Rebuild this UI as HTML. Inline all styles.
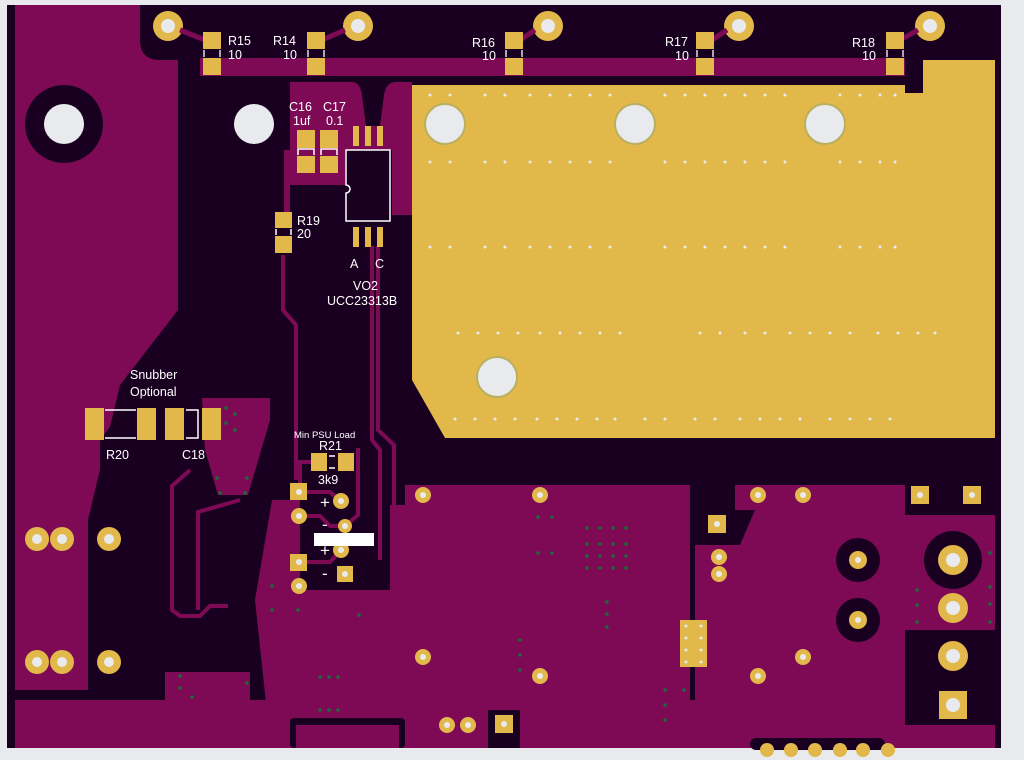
<!DOCTYPE html>
<html><head><meta charset="utf-8"><style>
html,body{margin:0;padding:0;background:#e8eaed;}
svg{display:block}
text{font-family:"Liberation Sans",sans-serif;fill:#fff;}
</style></head><body>
<svg width="1024" height="760" viewBox="0 0 1024 760" xmlns="http://www.w3.org/2000/svg">
<rect x="0" y="0" width="1024" height="760" fill="#e8eaed"/>
<rect x="7" y="5" width="994" height="743" fill="#1a0020"/>
<path d="M15 5 H140 V40 Q140 60 160 60 H178 V310 L120 385 L88 520 V690 H15 Z" fill="#7e0a55"/>
<path d="M15 690 H82 V625 L15 625 Z" fill="#7e0a55"/>
<rect x="15" y="690" width="70" height="8" fill="#1a0020"/>
<rect x="200" y="58" width="712" height="18" fill="#7e0a55"/>
<path d="M290 82 H352 Q360 82 362 95 L366 126 H380 L384 95 Q386 82 396 82 H412 V215 H400 V215 H392 V150 H345 V185 H290 Z" fill="#7e0a55"/>
<path d="M284 150 V212 H290 V150 Z" fill="#7e0a55"/>
<path d="M412 85 H905 V60 H995 V438 H445 L412 380 Z" fill="#e2b84a"/>
<rect x="905" y="58" width="18" height="35" fill="#1a0020"/>
<path d="M202 398 H270 V420 L248 495 H218 L205 450 Z" fill="#7e0a55"/>
<path d="M100 440 L130 400 H160 V470 L100 470 Z" fill="#1a0020"/>
<path d="M272 500 H300 V590 H390 V505 H405 V485 H690 V740 H270 L255 600 Z" fill="#7e0a55"/>
<path d="M695 485 H742 L720 505 H700 Z" fill="#1a0020"/>
<path d="M735 485 H905 V515 H995 V630 H905 V725 H695 V545 H740 L755 510 H735 Z" fill="#7e0a55"/>
<path d="M165 672 H250 V740 H15 V700 H165 Z" fill="#7e0a55"/>
<rect x="15" y="700" width="680" height="48" fill="#7e0a55"/>
<rect x="695" y="725" width="300" height="23" fill="#7e0a55"/>
<rect x="290" y="718" width="115" height="30" rx="4" fill="#1a0020"/>
<rect x="296" y="725" width="103" height="23" fill="#7e0a55"/>
<rect x="488" y="710" width="32" height="38" fill="#1a0020"/>
<g stroke="#7e0a55" stroke-width="4" fill="none">
<path d="M283 255 V310 L296 325 V480"/>
<path d="M372 246 V440 L380 450 V560"/>
<path d="M378 246 V430 L394 445 V560"/>
<path d="M190 470 L172 486 V610 L180 616 H200 L210 606 H228"/>
<path d="M240 500 L198 512 V610"/>
<path d="M358 448 V515 L345 526"/>
<path d="M299 492 H330 L341 501"/>
<path d="M299 516 H320 L330 526 H345"/>
<path d="M299 562 H330 L341 550"/>
<path d="M311 462 H300 V490"/>
</g>
<circle cx="64" cy="124" r="39" fill="#1a0020"/>
<circle cx="64" cy="124" r="20" fill="#e8eaed"/>
<circle cx="254" cy="124" r="20" fill="#e8eaed"/>
<g fill="#e8eaed" stroke="#b8b060" stroke-width="2">
<circle cx="445" cy="124" r="20"/><circle cx="635" cy="124" r="20"/><circle cx="825" cy="124" r="20"/><circle cx="497" cy="377" r="20"/>
</g>
<g fill="#e8eaed">
<circle cx="430" cy="95" r="1.5"/><circle cx="450" cy="95" r="1.5"/><circle cx="485" cy="95" r="1.5"/><circle cx="505" cy="95" r="1.5"/><circle cx="530" cy="95" r="1.5"/><circle cx="550" cy="95" r="1.5"/><circle cx="570" cy="95" r="1.5"/><circle cx="590" cy="95" r="1.5"/><circle cx="610" cy="95" r="1.5"/><circle cx="665" cy="95" r="1.5"/><circle cx="685" cy="95" r="1.5"/><circle cx="705" cy="95" r="1.5"/><circle cx="725" cy="95" r="1.5"/><circle cx="745" cy="95" r="1.5"/><circle cx="765" cy="95" r="1.5"/><circle cx="785" cy="95" r="1.5"/><circle cx="840" cy="95" r="1.5"/><circle cx="860" cy="95" r="1.5"/><circle cx="880" cy="95" r="1.5"/><circle cx="895" cy="95" r="1.5"/>
<circle cx="430" cy="162" r="1.5"/><circle cx="450" cy="162" r="1.5"/><circle cx="485" cy="162" r="1.5"/><circle cx="505" cy="162" r="1.5"/><circle cx="530" cy="162" r="1.5"/><circle cx="550" cy="162" r="1.5"/><circle cx="570" cy="162" r="1.5"/><circle cx="590" cy="162" r="1.5"/><circle cx="610" cy="162" r="1.5"/><circle cx="665" cy="162" r="1.5"/><circle cx="685" cy="162" r="1.5"/><circle cx="705" cy="162" r="1.5"/><circle cx="725" cy="162" r="1.5"/><circle cx="745" cy="162" r="1.5"/><circle cx="765" cy="162" r="1.5"/><circle cx="785" cy="162" r="1.5"/><circle cx="840" cy="162" r="1.5"/><circle cx="860" cy="162" r="1.5"/><circle cx="880" cy="162" r="1.5"/><circle cx="895" cy="162" r="1.5"/>
<circle cx="430" cy="247" r="1.5"/><circle cx="450" cy="247" r="1.5"/><circle cx="485" cy="247" r="1.5"/><circle cx="505" cy="247" r="1.5"/><circle cx="530" cy="247" r="1.5"/><circle cx="550" cy="247" r="1.5"/><circle cx="570" cy="247" r="1.5"/><circle cx="590" cy="247" r="1.5"/><circle cx="610" cy="247" r="1.5"/><circle cx="665" cy="247" r="1.5"/><circle cx="685" cy="247" r="1.5"/><circle cx="705" cy="247" r="1.5"/><circle cx="725" cy="247" r="1.5"/><circle cx="745" cy="247" r="1.5"/><circle cx="765" cy="247" r="1.5"/><circle cx="785" cy="247" r="1.5"/><circle cx="840" cy="247" r="1.5"/><circle cx="860" cy="247" r="1.5"/><circle cx="880" cy="247" r="1.5"/><circle cx="895" cy="247" r="1.5"/>
<circle cx="458" cy="333" r="1.5"/><circle cx="478" cy="333" r="1.5"/><circle cx="498" cy="333" r="1.5"/><circle cx="518" cy="333" r="1.5"/><circle cx="540" cy="333" r="1.5"/><circle cx="560" cy="333" r="1.5"/><circle cx="580" cy="333" r="1.5"/><circle cx="600" cy="333" r="1.5"/><circle cx="620" cy="333" r="1.5"/><circle cx="700" cy="333" r="1.5"/><circle cx="720" cy="333" r="1.5"/><circle cx="745" cy="333" r="1.5"/><circle cx="765" cy="333" r="1.5"/><circle cx="790" cy="333" r="1.5"/><circle cx="810" cy="333" r="1.5"/><circle cx="830" cy="333" r="1.5"/><circle cx="850" cy="333" r="1.5"/><circle cx="878" cy="333" r="1.5"/><circle cx="898" cy="333" r="1.5"/><circle cx="918" cy="333" r="1.5"/><circle cx="935" cy="333" r="1.5"/>
<circle cx="455" cy="419" r="1.5"/><circle cx="475" cy="419" r="1.5"/><circle cx="495" cy="419" r="1.5"/><circle cx="515" cy="419" r="1.5"/><circle cx="537" cy="419" r="1.5"/><circle cx="557" cy="419" r="1.5"/><circle cx="577" cy="419" r="1.5"/><circle cx="597" cy="419" r="1.5"/><circle cx="615" cy="419" r="1.5"/><circle cx="645" cy="419" r="1.5"/><circle cx="665" cy="419" r="1.5"/><circle cx="695" cy="419" r="1.5"/><circle cx="715" cy="419" r="1.5"/><circle cx="740" cy="419" r="1.5"/><circle cx="760" cy="419" r="1.5"/><circle cx="780" cy="419" r="1.5"/><circle cx="800" cy="419" r="1.5"/><circle cx="830" cy="419" r="1.5"/><circle cx="850" cy="419" r="1.5"/><circle cx="870" cy="419" r="1.5"/><circle cx="890" cy="419" r="1.5"/>
</g>
<g>
<circle cx="168" cy="26" r="15" fill="#e2b84a"/><circle cx="168" cy="26" r="7" fill="#e8eaed"/>
<circle cx="358" cy="26" r="15" fill="#e2b84a"/><circle cx="358" cy="26" r="7" fill="#e8eaed"/>
<circle cx="548" cy="26" r="15" fill="#e2b84a"/><circle cx="548" cy="26" r="7" fill="#e8eaed"/>
<circle cx="739" cy="26" r="15" fill="#e2b84a"/><circle cx="739" cy="26" r="7" fill="#e8eaed"/>
<circle cx="930" cy="26" r="15" fill="#e2b84a"/><circle cx="930" cy="26" r="7" fill="#e8eaed"/>
</g>
<g stroke="#7e0a55" stroke-width="5">
<line x1="180" y1="30" x2="205" y2="40"/><line x1="345" y1="30" x2="322" y2="40"/><line x1="535" y1="30" x2="520" y2="40"/><line x1="727" y1="30" x2="712" y2="40"/><line x1="918" y1="30" x2="900" y2="40"/>
</g>
<g fill="#e2b84a">
<rect x="203" y="32" width="18" height="17"/><rect x="203" y="58" width="18" height="17"/>
<rect x="307" y="32" width="18" height="17"/><rect x="307" y="58" width="18" height="17"/>
<rect x="505" y="32" width="18" height="17"/><rect x="505" y="58" width="18" height="17"/>
<rect x="696" y="32" width="18" height="17"/><rect x="696" y="58" width="18" height="17"/>
<rect x="886" y="32" width="18" height="17"/><rect x="886" y="58" width="18" height="17"/>
</g>
<g stroke="#fff" stroke-width="1.3">
<path d="M204 50v7M220 50v7M308 50v7M324 50v7M506 50v7M522 50v7M697 50v7M713 50v7M887 50v7M903 50v7"/>
</g>
<g font-size="12.5">
<text x="228" y="45">R15</text><text x="228" y="59">10</text>
<text x="273" y="45">R14</text><text x="283" y="59">10</text>
<text x="472" y="47">R16</text><text x="482" y="60">10</text>
<text x="665" y="46">R17</text><text x="675" y="60">10</text>
<text x="852" y="47">R18</text><text x="862" y="60">10</text>
</g>
<g fill="#e2b84a">
<rect x="297" y="130" width="18" height="18"/><rect x="297" y="156" width="18" height="17"/>
<rect x="320" y="130" width="18" height="18"/><rect x="320" y="156" width="18" height="17"/>
<rect x="353" y="126" width="6" height="20"/><rect x="365" y="126" width="6" height="20"/><rect x="377" y="126" width="6" height="20"/>
<rect x="353" y="227" width="6" height="20"/><rect x="365" y="227" width="6" height="20"/><rect x="377" y="227" width="6" height="20"/>
<rect x="275" y="212" width="17" height="16"/><rect x="275" y="236" width="17" height="17"/>
</g>
<g stroke="#fff" stroke-width="1.5" fill="none">
<path d="M298 155v-6h16v6M321 155v-6h16v6"/>
<path d="M346 150h44v71h-44v-28a4 4 0 0 0 0-8z"/>
<path d="M276 229v6M291 229v6"/>
</g>
<g font-size="12.5">
<text x="289" y="111">C16</text><text x="293" y="125">1uf</text>
<text x="323" y="111">C17</text><text x="326" y="125">0.1</text>
<text x="297" y="225">R19</text><text x="297" y="238">20</text>
<text x="350" y="268">A</text><text x="375" y="268">C</text>
<text x="353" y="290">VO2</text><text x="327" y="305">UCC23313B</text>
<text x="130" y="379">Snubber</text><text x="130" y="396">Optional</text>
<text x="106" y="459">R20</text><text x="182" y="459">C18</text>
<text x="319" y="450">R21</text><text x="318" y="484">3k9</text>
</g>
<text x="294" y="438" font-size="9.5">Min PSU Load</text>
<g fill="#e2b84a">
<rect x="85" y="408" width="19" height="32"/><rect x="137" y="408" width="19" height="32"/>
<rect x="165" y="408" width="19" height="32"/><rect x="202" y="408" width="19" height="32"/>
<rect x="311" y="453" width="16" height="18"/><rect x="338" y="453" width="16" height="18"/>
</g>
<g stroke="#fff" stroke-width="1.5" fill="none">
<path d="M105 410h31M105 438h31M186 410h12v28h-12"/>
<path d="M329 456h6M329 468h6"/>
</g>
<g fill="#e2b84a">
<rect x="290" y="483" width="17" height="17"/><circle cx="341" cy="501" r="8"/>
<circle cx="299" cy="516" r="8"/><circle cx="345" cy="526" r="7"/>
<circle cx="341" cy="550" r="8"/><rect x="290" y="554" width="17" height="17"/>
<rect x="337" y="566" width="16" height="16"/><circle cx="299" cy="586" r="8"/>
</g>
<g fill="#e8eaed"><circle cx="299" cy="492" r="3"/><circle cx="341" cy="501" r="3"/><circle cx="299" cy="516" r="3"/><circle cx="345" cy="526" r="3"/><circle cx="341" cy="550" r="3"/><circle cx="299" cy="562" r="3"/><circle cx="345" cy="574" r="3"/><circle cx="299" cy="586" r="3"/></g>
<rect x="314" y="533" width="60" height="13" fill="#fff"/>
<g font-size="17"><text x="320" y="508">+</text><text x="322" y="530">-</text><text x="320" y="556">+</text><text x="322" y="579">-</text></g>
<g fill="#e2b84a">
<circle cx="37" cy="539" r="12"/><circle cx="62" cy="539" r="12"/><circle cx="109" cy="539" r="12"/>
<circle cx="37" cy="662" r="12"/><circle cx="62" cy="662" r="12"/><circle cx="109" cy="662" r="12"/>
<circle cx="423" cy="495" r="8"/><circle cx="540" cy="495" r="8"/><circle cx="423" cy="657" r="8"/><circle cx="540" cy="676" r="8"/>
<circle cx="758" cy="495" r="8"/><circle cx="803" cy="495" r="8"/><circle cx="719" cy="557" r="8"/><circle cx="719" cy="574" r="8"/>
<circle cx="803" cy="657" r="8"/><circle cx="758" cy="676" r="8"/>
<circle cx="447" cy="725" r="8"/><circle cx="468" cy="725" r="8"/>
</g>
<circle cx="858" cy="560" r="22" fill="#1a0020"/><circle cx="858" cy="560" r="9" fill="#e2b84a"/>
<circle cx="858" cy="620" r="22" fill="#1a0020"/><circle cx="858" cy="620" r="9" fill="#e2b84a"/>
<circle cx="953" cy="560" r="29" fill="#1a0020"/><circle cx="953" cy="560" r="15" fill="#e2b84a"/>
<rect x="905" y="630" width="90" height="95" fill="#1a0020"/>
<circle cx="953" cy="608" r="15" fill="#e2b84a"/><circle cx="953" cy="656" r="15" fill="#e2b84a"/>
<rect x="939" y="691" width="28" height="28" fill="#e2b84a"/>
<g fill="#e2b84a">
<rect x="708" y="515" width="18" height="18"/><rect x="911" y="486" width="18" height="18"/><rect x="963" y="486" width="18" height="18"/>
<rect x="495" y="715" width="18" height="18"/>
<rect x="680" y="620" width="27" height="47"/>
</g>
<g fill="#e8eaed">
<circle cx="37" cy="539" r="5"/><circle cx="62" cy="539" r="5"/><circle cx="109" cy="539" r="5"/>
<circle cx="37" cy="662" r="5"/><circle cx="62" cy="662" r="5"/><circle cx="109" cy="662" r="5"/>
<circle cx="423" cy="495" r="3"/><circle cx="540" cy="495" r="3"/><circle cx="423" cy="657" r="3"/><circle cx="540" cy="676" r="3"/>
<circle cx="758" cy="495" r="3"/><circle cx="803" cy="495" r="3"/><circle cx="719" cy="557" r="3"/><circle cx="719" cy="574" r="3"/>
<circle cx="803" cy="657" r="3"/><circle cx="758" cy="676" r="3"/><circle cx="717" cy="524" r="3"/><circle cx="920" cy="495" r="3"/><circle cx="972" cy="495" r="3"/>
<circle cx="858" cy="560" r="3"/><circle cx="858" cy="620" r="3"/>
<circle cx="953" cy="560" r="7"/><circle cx="953" cy="608" r="7"/><circle cx="953" cy="656" r="7"/><circle cx="953" cy="705" r="7"/>
<circle cx="447" cy="725" r="3"/><circle cx="468" cy="725" r="3"/><circle cx="504" cy="724" r="3"/>
<circle cx="686" cy="626" r="1.5"/><circle cx="701" cy="626" r="1.5"/><circle cx="686" cy="638" r="1.5"/><circle cx="701" cy="638" r="1.5"/><circle cx="686" cy="650" r="1.5"/><circle cx="701" cy="650" r="1.5"/><circle cx="686" cy="662" r="1.5"/><circle cx="701" cy="662" r="1.5"/>
</g>
<g fill="#1a0020"><rect x="750" y="738" width="135" height="12" rx="6"/></g>
<g fill="#e2b84a"><circle cx="767" cy="750" r="7"/><circle cx="791" cy="750" r="7"/><circle cx="815" cy="750" r="7"/><circle cx="840" cy="750" r="7"/><circle cx="863" cy="750" r="7"/><circle cx="888" cy="750" r="7"/></g>
<g fill="#1a6a3a">
<circle cx="226" cy="408" r="1.8"/><circle cx="235" cy="414" r="1.8"/><circle cx="226" cy="423" r="1.8"/><circle cx="235" cy="430" r="1.8"/>
<circle cx="217" cy="478" r="1.8"/><circle cx="247" cy="478" r="1.8"/><circle cx="220" cy="493" r="1.8"/><circle cx="245" cy="493" r="1.8"/>
<circle cx="272" cy="586" r="1.8"/><circle cx="298" cy="610" r="1.8"/><circle cx="272" cy="610" r="1.8"/><circle cx="359" cy="615" r="1.8"/>
<circle cx="587" cy="528" r="1.8"/><circle cx="600" cy="528" r="1.8"/><circle cx="613" cy="528" r="1.8"/><circle cx="626" cy="528" r="1.8"/>
<circle cx="587" cy="544" r="1.8"/><circle cx="600" cy="544" r="1.8"/><circle cx="613" cy="544" r="1.8"/><circle cx="626" cy="544" r="1.8"/>
<circle cx="587" cy="556" r="1.8"/><circle cx="600" cy="556" r="1.8"/><circle cx="613" cy="556" r="1.8"/><circle cx="626" cy="556" r="1.8"/>
<circle cx="587" cy="568" r="1.8"/><circle cx="600" cy="568" r="1.8"/><circle cx="613" cy="568" r="1.8"/><circle cx="626" cy="568" r="1.8"/>
<circle cx="538" cy="517" r="1.8"/><circle cx="552" cy="517" r="1.8"/><circle cx="538" cy="553" r="1.8"/><circle cx="552" cy="553" r="1.8"/>
<circle cx="607" cy="602" r="1.8"/><circle cx="607" cy="614" r="1.8"/><circle cx="607" cy="627" r="1.8"/>
<circle cx="520" cy="640" r="1.8"/><circle cx="520" cy="655" r="1.8"/><circle cx="520" cy="670" r="1.8"/>
<circle cx="180" cy="676" r="1.8"/><circle cx="180" cy="688" r="1.8"/><circle cx="192" cy="697" r="1.8"/><circle cx="247" cy="683" r="1.8"/>
<circle cx="320" cy="677" r="1.8"/><circle cx="329" cy="677" r="1.8"/><circle cx="338" cy="677" r="1.8"/><circle cx="320" cy="710" r="1.8"/><circle cx="329" cy="710" r="1.8"/><circle cx="338" cy="710" r="1.8"/>
<circle cx="917" cy="590" r="1.8"/><circle cx="917" cy="605" r="1.8"/><circle cx="917" cy="622" r="1.8"/><circle cx="990" cy="553" r="1.8"/><circle cx="990" cy="587" r="1.8"/><circle cx="990" cy="604" r="1.8"/><circle cx="990" cy="622" r="1.8"/>
<circle cx="665" cy="690" r="1.8"/><circle cx="665" cy="705" r="1.8"/><circle cx="665" cy="720" r="1.8"/><circle cx="684" cy="690" r="1.8"/>
</g>
</svg>
</body></html>
